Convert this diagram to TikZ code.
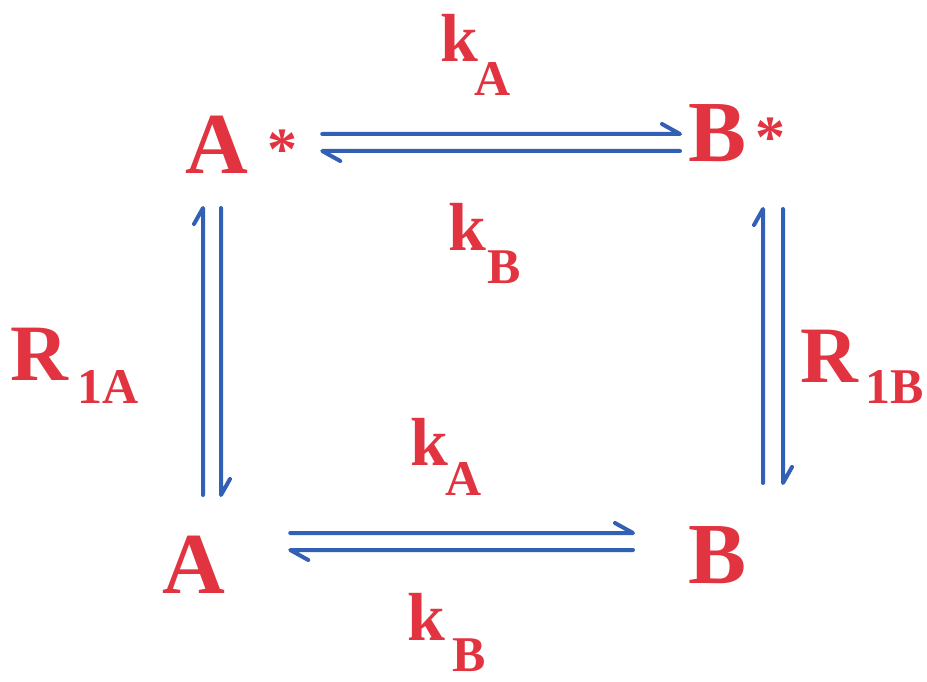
\documentclass[tikz,border=0pt]{standalone}
\usepackage{fontspec}
\setmainfont{Liberation Serif}[BoldFont={Liberation Serif Bold}]
\definecolor{lbl}{RGB}{226,52,64}
\definecolor{arr}{RGB}{50,96,180}
\newcommand{\bigfs}{\fontsize{87}{87}\selectfont}
\newcommand{\rfs}{\fontsize{80}{80}\selectfont}
\newcommand{\kfs}{\fontsize{68}{68}\selectfont}
\newcommand{\subfs}{\fontsize{50}{50}\selectfont}
\newcommand{\starfs}{\fontsize{60}{60}\selectfont}
\begin{document}
\begin{tikzpicture}[x=1pt,y=-1pt,
  lab/.style={text=lbl,font=\bfseries,inner sep=0pt,anchor=base west},
  harp/.style={draw=arr,line width=4pt,line cap=round,line join=round}]
\useasboundingbox (0,0) rectangle (927,682);
% species
\node[lab] (As) at (185,174) {\bigfs A\hspace{19pt}{\starfs\raisebox{4pt}{*}}};
\node[lab] (Bs) at (688,162) {\bigfs B\hspace{9pt}{\starfs\raisebox{4pt}{*}}};
\node[lab] (A) at (162,593) {\bigfs A};
\node[lab] (B) at (688,583) {\bigfs B};
% rate labels
\node[lab] (kA1) at (440,62) {\kfs k\hspace{-4pt}\raisebox{-34pt}{\subfs A}};
\node[lab] (kB1) at (448,250) {\kfs k\hspace{1pt}\raisebox{-33pt}{\subfs B}};
\node[lab] (kA2) at (410,465) {\kfs k\hspace{-3pt}\raisebox{-30pt}{\subfs A}};
\node[lab] (kB2) at (407,640) {\kfs k\hspace{7pt}\raisebox{-31pt}{\subfs B}};
\node[lab] (R1A) at (10,380) {\rfs R\hspace{10pt}\raisebox{-23pt}{\subfs 1A}};
\node[lab] (R1B) at (800,382) {\rfs R\hspace{8pt}\raisebox{-21pt}{\subfs 1B}};
% top equilibrium A* <=> B*
\draw[harp] ([shift={(25,-40)}]As.base east) -- ([shift={(-8,-28)}]Bs.base west) -- ++(-18,-10);
\draw[harp] ([shift={(-8,-11)}]Bs.base west) -- ([shift={(25,-23)}]As.base east) -- ++(18,10);
% bottom equilibrium A <=> B
\draw[harp] ([shift={(65,-60)}]A.base east) -- ([shift={(-55,-50)}]B.base west) -- ++(-18,-10);
\draw[harp] ([shift={(-55,-33)}]B.base west) -- ([shift={(65,-43)}]A.base east) -- ++(18,10);
% left equilibrium A <=> A*
\draw[harp] ([shift={(41,-98)}]A.base west) -- ([shift={(18,34)}]As.base west) -- ++(-9,16);
\draw[harp] ([shift={(36,34)}]As.base west) -- ([shift={(59,-98)}]A.base west) -- ++(9,-16);
% right equilibrium B <=> B*
\draw[harp] ([shift={(75,-100)}]B.base west) -- ([shift={(75,47)}]Bs.base west) -- ++(-9,16);
\draw[harp] ([shift={(95,47)}]Bs.base west) -- ([shift={(95,-100)}]B.base west) -- ++(9,-16);
\end{tikzpicture}
\end{document}
